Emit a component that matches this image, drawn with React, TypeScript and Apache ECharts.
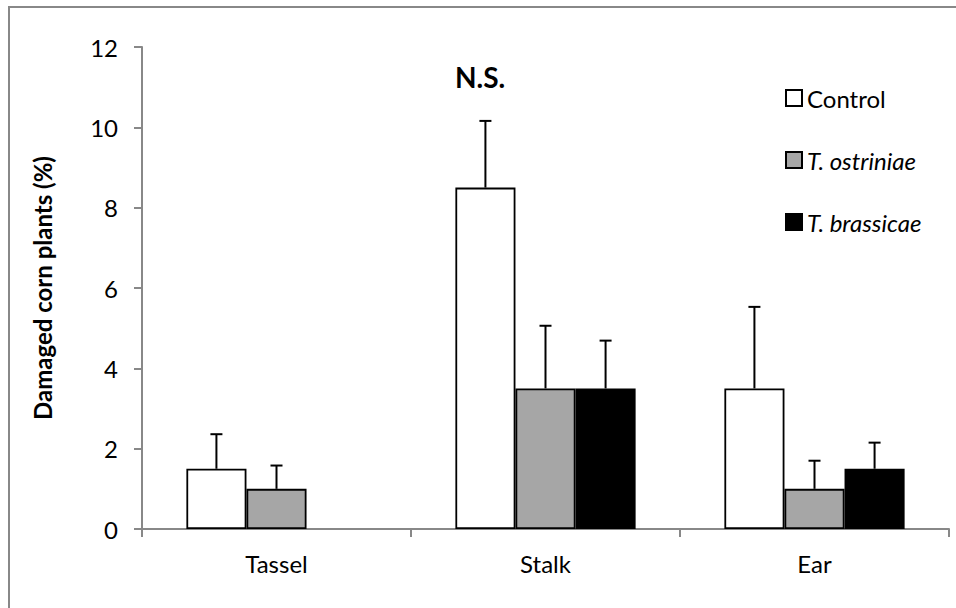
import React, { useEffect, useRef } from "react";
import * as echarts from "echarts";

const categories = ["Tassel", "Stalk", "Ear"];
const seriesNames = ["Control", "T. ostriniae", "T. brassicae"];
const controlMean = [1.5, 8.5, 3.5];
const controlErr = [0.86, 1.66, 2.03];
const ostriniaeMean = [1.0, 3.5, 1.0];
const ostriniaeErr = [0.58, 1.56, 0.7];
const brassicaeMean = [0, 3.5, 1.5];
const brassicaeErr = [null, 1.19, 0.65];
const yTicks = { min: 0, max: 12, interval: 2 };

const FONT = "Lato";
const GAP = 0.33;

export default function App() {
  const ref = useRef<HTMLDivElement>(null);
  useEffect(() => {
    if (!ref.current) return;
    const chart = echarts.init(ref.current, undefined, { renderer: "svg" });
    const means = [controlMean, ostriniaeMean, brassicaeMean];
    const errs = [controlErr, ostriniaeErr, brassicaeErr];
    const colors = ["#ffffff", "#a6a6a6", "#000000"];
    const errData: number[][] = [];
    means.forEach((m, s) => {
      m.forEach((v, c) => {
        const e = errs[s][c];
        if (e != null) errData.push([c, s, v, v + e]);
      });
    });
    const barSeries = means.map((m, s) => ({
      type: "bar",
      name: seriesNames[s],
      barGap: "0%",
      barCategoryGap: GAP * 100 + "%",
      itemStyle: { color: colors[s], borderColor: "#000", borderWidth: 1.8 },
      data: m.map((v) => (v === 0 ? { value: v, itemStyle: { borderWidth: 0 } } : v)),
    }));
    chart.setOption({
      animation: false,
      grid: { left: 142, right: 7, top: 47, bottom: 79 },
      legend: {
        orient: "vertical",
        left: 785,
        top: 86,
        padding: 0,
        itemWidth: 16,
        itemHeight: 16,
        itemGap: 38,
        itemTextGap: 6,
        icon: "rect",
        data: seriesNames,
        formatter: (n: string) => (n === "Control" ? "{n|" + n + "}" : "{i|" + n + "}"),
        textStyle: {
          fontFamily: FONT,
          fontSize: 24,
          color: "#000",
          rich: {
            n: { fontFamily: FONT, fontSize: 24, color: "#000", lineHeight: 24 },
            i: { fontFamily: FONT, fontSize: 24, color: "#000", fontStyle: "italic", lineHeight: 24 },
          },
        },
      },
      xAxis: {
        type: "category",
        data: categories,
        axisLine: { lineStyle: { color: "#888", width: 2 } },
        axisTick: { show: true, length: 8, lineStyle: { color: "#888", width: 2 } },
        axisLabel: { fontFamily: FONT, fontSize: 24, color: "#000", margin: 22 },
      },
      yAxis: {
        type: "value",
        min: yTicks.min,
        max: yTicks.max,
        interval: yTicks.interval,
        name: "Damaged corn plants (%)",
        nameLocation: "middle",
        nameGap: 88,
        nameTextStyle: { fontFamily: FONT, fontSize: 24, fontWeight: "bold", color: "#000" },
        splitLine: { show: false },
        axisLine: { show: true, lineStyle: { color: "#888", width: 2 } },
        axisTick: { show: true, length: 8, lineStyle: { color: "#888", width: 2 } },
        axisLabel: { fontFamily: FONT, fontSize: 24, color: "#000", margin: 24 },
      },
      graphic: [
        {
          type: "rect",
          silent: true,
          shape: { x: 9, y: 7, width: 1200, height: 1000 },
          style: { fill: "none", stroke: "#888", lineWidth: 2 },
        },
        {
          type: "text",
          left: 455,
          top: 63,
          style: { text: "N.S.", fontFamily: FONT, fontSize: 28, fontWeight: "bold", fill: "#000" },
        },
      ],
      series: [
        ...barSeries,
        {
          type: "custom",
          name: "err",
          z: 5,
          encode: { x: 0, y: 3 },
          data: errData,
          renderItem: (params: any, api: any) => {
            const c = api.value(0);
            const s = api.value(1);
            const base = api.coord([c, api.value(2)]);
            const top = api.coord([c, api.value(3)]);
            const band = api.size([1, 0])[0];
            const bw = (band * (1 - GAP)) / 3;
            const x = base[0] + (s - 1) * bw;
            const st = { stroke: "#000", lineWidth: 2 };
            return {
              type: "group",
              children: [
                { type: "line", shape: { x1: x, y1: base[1], x2: x, y2: top[1] }, style: st },
                { type: "line", shape: { x1: x - 6, y1: top[1], x2: x + 6, y2: top[1] }, style: st },
              ],
            };
          },
        },
      ],
    });
    return () => chart.dispose();
  }, []);
  return (
    <div
      ref={ref}
      style={{ position: "fixed", left: 0, top: 0, width: 956, height: 608, background: "#fff" }}
    />
  );
}
